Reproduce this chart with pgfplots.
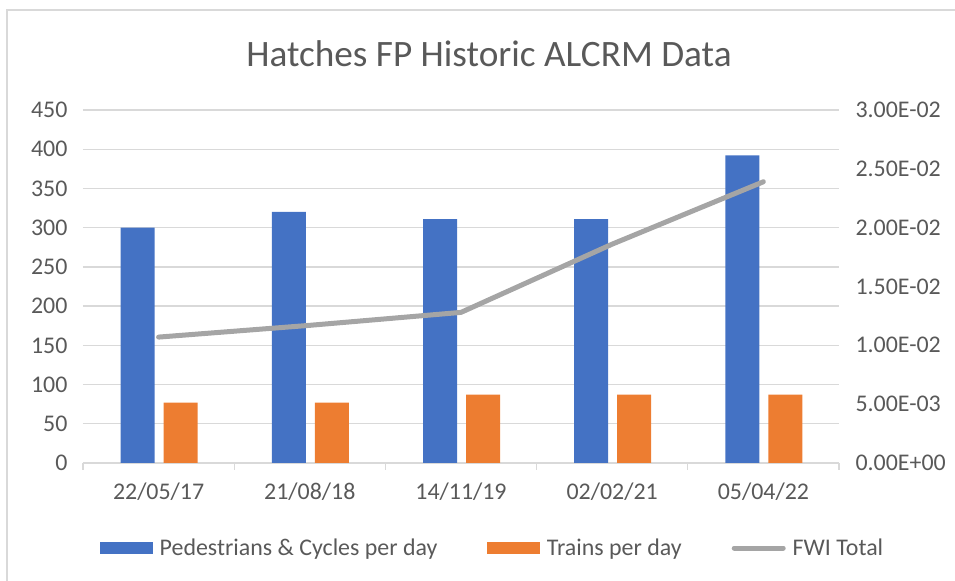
\documentclass[border=0pt]{standalone}
\usepackage{pgfplots}
\pgfplotsset{compat=1.18}
\usepackage{fontspec}
\setmainfont{Carlito}
\definecolor{cblue}{HTML}{4472C4}
\definecolor{corange}{HTML}{ED7D31}
\definecolor{cgray}{HTML}{A5A5A5}
\definecolor{ctext}{HTML}{595959}
\definecolor{cgrid}{HTML}{D9D9D9}
\begin{document}
\begin{tikzpicture}[x=1bp,y=1bp]
\useasboundingbox (-83,-118) rectangle (872,463);
\draw[cgrid, line width=1.5bp] (-76,-120) -- (-76,453) -- (875,453);
\node[font=\fontsize{37.4}{42}\selectfont, text=ctext, anchor=base] at (406,396) {Hatches FP Historic ALCRM Data};
\begin{axis}[
  at={(0,0)}, anchor=south west,
  scale only axis, width=756bp, height=353bp,
  xmin=-0.5, xmax=4.5, ymin=0, ymax=450,
  ytick={0,50,...,450},
  xtick={0,1,2,3,4},
  xticklabels={22/05/17,21/08/18,14/11/19,02/02/21,05/04/22},
  minor xtick={-0.5,0.5,1.5,2.5,3.5,4.5},
  xtick pos=lower, ytick pos=left,
  axis line style={draw=none},
  major tick length=0pt, minor tick length=7bp, tick align=outside,
  tick style={cgrid, line width=1.3bp},
  ymajorgrids, grid style={cgrid, line width=1.3bp},
  /pgf/number format/assume math mode=true,
  ticklabel style={font=\fontsize{24}{28}\selectfont, text=ctext},
  yticklabel style={xshift=-12bp},
  xticklabel style={yshift=-16bp},
  ybar, bar width=34bp,
  clip=false,
]
\addplot[fill=cblue, draw=none, bar shift=-21bp] coordinates {(0,300) (1,320) (2,311) (3,311) (4,392)};
\addplot[fill=corange, draw=none, bar shift=22bp] coordinates {(0,77) (1,77) (2,87) (3,87) (4,87)};
\end{axis}
\begin{axis}[
  at={(0,0)}, anchor=south west,
  scale only axis, width=756bp, height=353bp,
  xmin=-0.5, xmax=4.5, ymin=0, ymax=0.03,
  axis x line=none, axis y line*=right,
  axis line style={draw=none},
  ytick={0,0.005,0.01,0.015,0.02,0.025,0.03},
  yticklabels={0.00E+00,5.00E-03,1.00E-02,1.50E-02,2.00E-02,2.50E-02,3.00E-02},
  scaled y ticks=false,
  major tick length=0pt,
  ticklabel style={font=\fontsize{24}{28}\selectfont, text=ctext},
  yticklabel style={anchor=west, xshift=13bp},
  clip=false,
  legend style={at={(0.542,-0.2408)}, anchor=center, draw=none, fill=none,
    legend columns=3, font=\fontsize{24}{28}\selectfont, text=ctext,
    /tikz/every odd column/.append style={column sep=5bp},
    /tikz/every even column/.append style={column sep=48bp}},
]
\addlegendimage{legend image code/.code={\fill[cblue] (0bp,-5.5bp) rectangle (52bp,5.5bp);}}
\addlegendentry{Pedestrians \& Cycles per day}
\addlegendimage{legend image code/.code={\fill[corange] (0bp,-5.5bp) rectangle (52bp,5.5bp);}}
\addlegendentry{Trains per day}
\addplot[cgray, line width=5bp, line cap=round, line join=round,
  legend image code/.code={\draw[cgray, line width=5bp, line cap=round] (2.5bp,0bp) -- (51.5bp,0bp);}]
  coordinates {(0,0.0107) (1,0.0117) (2,0.0128) (3,0.0186) (4,0.0239)};
\addlegendentry{FWI Total}
\end{axis}
\end{tikzpicture}
\end{document}
